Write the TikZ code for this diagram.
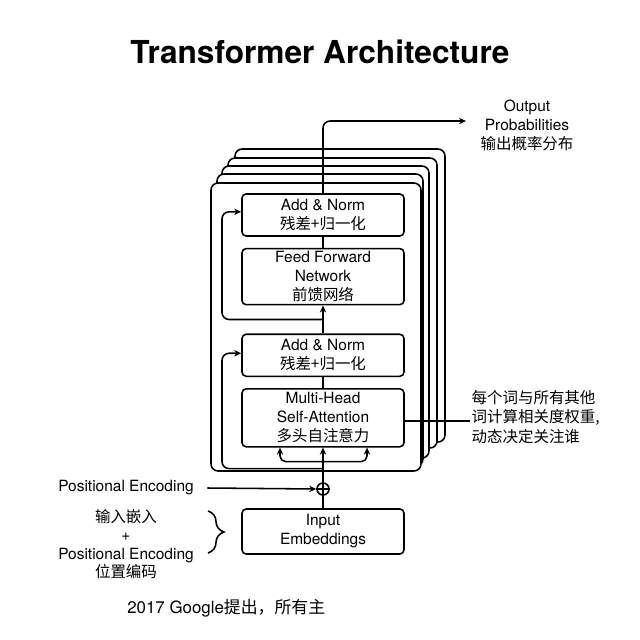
\documentclass[tikz,border=0pt]{standalone}
\usepackage{fontspec}
\setmainfont{TeX Gyre Heros}
\newfontfamily\cjk{Noto Sans CJK SC}
\usetikzlibrary{arrows.meta,positioning,calc,decorations.pathreplacing}

\begin{document}
\begin{tikzpicture}[
  x=0.025cm, y=-0.025cm,
  font=\fontsize{11}{13.5}\selectfont,
  blk/.style  = {draw, rounded corners=3pt, align=center, inner sep=2pt,
                 minimum width=4.05cm, line width=1.1pt},
  frm/.style  = {draw, rounded corners=5pt, line width=1.1pt, fill=white},
  ln/.style   = {line width=1.1pt},
  arr/.style  = {-{Stealth[length=5pt,width=4.5pt]}, line width=1.1pt},
  txt/.style  = {align=center, inner sep=1pt},
]
\useasboundingbox (0,0) rectangle (640,640);

%── Title ─────────────────────────────────────────────────────────────────────
\node[font=\fontsize{22.5}{27}\selectfont\bfseries] (title) at (320,52)
    {Transformer Architecture};

%── Stacked encoder layers (back to front) ─────────────────────────────────────
\foreach \l/\t/\r/\b in {235/149/445/442, 228/158/437/448,
                         222/166/429/458, 217/174/423/466}
  \draw[frm] (\l,\t) rectangle (\r,\b);
\draw[frm] (211,183) rectangle (421,471);

%── Encoder blocks ────────────────────────────────────────────────────────────
\node[blk, minimum height=1.05cm] (an1) at (323,215)
    {Add \& Norm\\\cjk 残差+归一化};
\node[blk, minimum height=1.4cm, below=0.275cm of an1] (ffn)
    {Feed Forward\\Network\\\cjk 前馈网络};
\node[blk, minimum height=1.05cm, below=0.7cm of ffn] (an2)
    {Add \& Norm\\\cjk 残差+归一化};
\node[blk, minimum height=1.45cm, below=0.275cm of an2] (mha)
    {Multi-Head\\Self-Attention\\\cjk 多头自注意力};

\draw[ln]  (ffn.north) -- (an1.south);
\draw[arr] (an2.north) -- (ffn.south);
\draw[ln]  (mha.north) -- (an2.south);

%── Residual connections ──────────────────────────────────────────────────────
\coordinate (r1) at ($(ffn.south)!0.5!(an2.north)$);
\coordinate (r2) at ($(mha.south)+(0,21)$);
\draw[arr, rounded corners=5pt] (r1) -- ++(-101,0) |- ([yshift=0.08cm]an1.west);
\draw[arr, rounded corners=5pt] (r2) -- ++(-101,0) |- ([yshift=0.05cm]an2.west);

%── Q, K, V split ─────────────────────────────────────────────────────────────
\coordinate (sp) at ($(mha.south)+(0,14)$);
\draw[arr, rounded corners=4pt] (sp) -| ($(mha.south)+(-43,0)$);
\draw[arr, rounded corners=4pt] (sp) -| ($(mha.south)+(44,0)$);

%── Input and positional encoding ─────────────────────────────────────────────
\node[blk, minimum height=1.125cm] (emb) at (323,531.5) {Input\\Embeddings};
\node[circle, draw, ln, minimum size=0.3cm, inner sep=0pt, fill=white]
    (pe) at (323,489) {};
\draw[arr] (emb.north) -- (mha.south);
\draw[ln]  (pe.west) -- (pe.east);

\node[txt] (pel) at (126,488) {Positional Encoding};
\draw[arr] ([xshift=0.3cm]pel.east) -- (pe.west);

\node[txt, font=\fontsize{11}{13}\selectfont] (embl) at (126,544)
    {{\cjk 输入嵌入}\\+\\Positional Encoding\\{\cjk 位置编码}};
\coordinate (bt) at (208,511);
\coordinate (bb) at (208,553);
\draw[ln, decorate, decoration={brace, amplitude=0.4cm}] (bt) -- (bb);

%── Output ────────────────────────────────────────────────────────────────────
\coordinate (otip) at (466,121);
\draw[arr, rounded corners=5pt] (an1.north) |- (otip);
\node[txt] (out) at (527,125) {Output\\Probabilities\\{\cjk 输出概率分布}};

%── Attention note ────────────────────────────────────────────────────────────
\node[anchor=west, align=left, inner sep=1pt,
      font=\fontsize{11}{14}\selectfont] (note) at (470,417)
    {{\cjk 每个词与所有其他}\\{\cjk 词计算相关度权重,}\\{\cjk 动态决定关注谁}};
\draw[ln] ([yshift=-0.08cm]mha.east) -- ([yshift=-0.08cm]mha.east -| note.west);

%── Footer ────────────────────────────────────────────────────────────────────
\node[anchor=west, inner sep=0pt, font=\fontsize{12}{14}\selectfont] (foot)
    at (127,608) {2017 Google{\cjk 提出，所有主}};

\end{tikzpicture}
\end{document}
